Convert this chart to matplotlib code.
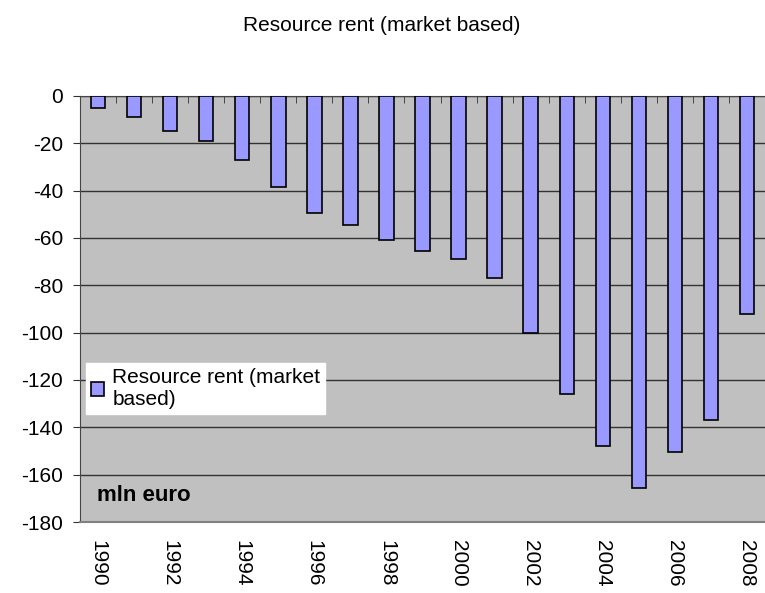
import matplotlib
matplotlib.use('Agg')
import matplotlib.pyplot as plt
import numpy as np

plt.rcParams['font.family'] = ['Liberation Sans', 'DejaVu Sans']
plt.rcParams['axes.unicode_minus'] = False

years = list(range(1990, 2009))
rent = [-5, -9, -15, -19, -27, -38.5, -49.5, -54.5, -61, -65.5,
        -69, -77, -100, -126, -148, -165.5, -150.5, -137, -92]
year_labels = [str(y) if y % 2 == 0 else '' for y in years]

fig = plt.figure(figsize=(7.65, 5.93), dpi=100)
ax = fig.add_axes([0.1046, 0.1197, 0.8954, 0.7186])
ax.set_facecolor('#C0C0C0')

x = np.arange(len(years))
ax.bar(x, rent, width=0.4, color='#9999FF', edgecolor='black', linewidth=1.2,
       label='Resource rent (market\nbased)', zorder=3)

ax.set_xlim(-0.5, len(years) - 0.5)
ax.set_ylim(-180, 0)
ax.set_yticks(np.arange(-180, 1, 20))
ax.yaxis.grid(True, color='#333333', linewidth=1.0, zorder=1)
ax.set_axisbelow(True)

ax.set_xticks(x)
ax.set_xticklabels(year_labels, rotation=270, fontsize=15)
ax.set_xticks(np.arange(-0.5, len(years), 1), minor=True)
ax.tick_params(axis='x', which='major', length=0, pad=13)
ax.tick_params(axis='x', which='minor', top=True, bottom=False, direction='in',
               length=5, color='#333333')
ax.tick_params(axis='y', labelsize=15, length=5, color='#333333', pad=7)

ax.spines['right'].set_visible(False)
ax.spines['top'].set_color('#444444')
ax.spines['left'].set_color('#444444')
ax.spines['bottom'].set_color('#808080')
ax.spines['bottom'].set_linewidth(1.5)

# title centred on the whole figure, not on the axes
ax.set_title('Resource rent (market based)', fontsize=15, pad=47, x=0.44)

leg = ax.legend(loc='upper left', bbox_to_anchor=(0.009, 0.373), fontsize=15,
                frameon=True, fancybox=False, handlelength=0.6, handleheight=0.6,
                handletextpad=0.4, borderpad=0.25, labelspacing=0.1,
                borderaxespad=0)
leg.get_frame().set_facecolor('white')
leg.get_frame().set_edgecolor('white')
leg.get_frame().set_alpha(1)

ax.text(0.025, 0.063, 'mln euro', transform=ax.transAxes, fontsize=16,
        fontweight='bold', va='center', ha='left')

plt.savefig('out.png', dpi=100)
